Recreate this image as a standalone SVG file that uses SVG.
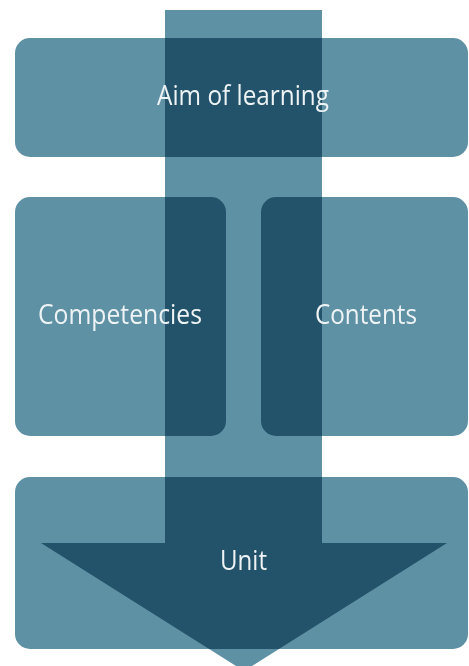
<svg xmlns="http://www.w3.org/2000/svg" width="469" height="666" viewBox="0 0 469 666">
<style>
.box{fill:#5e91a4;mix-blend-mode:multiply}
.lbl{font-family:"Open Sans","Liberation Sans",sans-serif;font-size:27.5px;fill:#eef3f5;text-anchor:middle}
.arrow{fill:#5e91a4}
</style>
<rect width="469" height="666" fill="#ffffff"/>
<g id="connectors">
<path class="arrow" d="M165,10 H322 V543 H447 L244,671 L41,543 H165 Z"/>
</g>
<g id="aim">
<rect class="box" x="15" y="38" width="453" height="119" rx="15"/>
<text class="lbl" x="243" y="105" textLength="172" lengthAdjust="spacingAndGlyphs">Aim of learning</text>
</g>
<g id="competencies">
<rect class="box" x="15" y="197" width="211" height="239" rx="15"/>
<text class="lbl" x="120" y="324" textLength="164" lengthAdjust="spacingAndGlyphs">Competencies</text>
</g>
<g id="contents">
<rect class="box" x="261" y="197" width="207" height="239" rx="15"/>
<text class="lbl" x="366" y="324" textLength="102" lengthAdjust="spacingAndGlyphs">Contents</text>
</g>
<g id="unit">
<rect class="box" x="15" y="477" width="453" height="172" rx="15"/>
<text class="lbl" x="243.5" y="570" textLength="47" lengthAdjust="spacingAndGlyphs">Unit</text>
</g>
</svg>
